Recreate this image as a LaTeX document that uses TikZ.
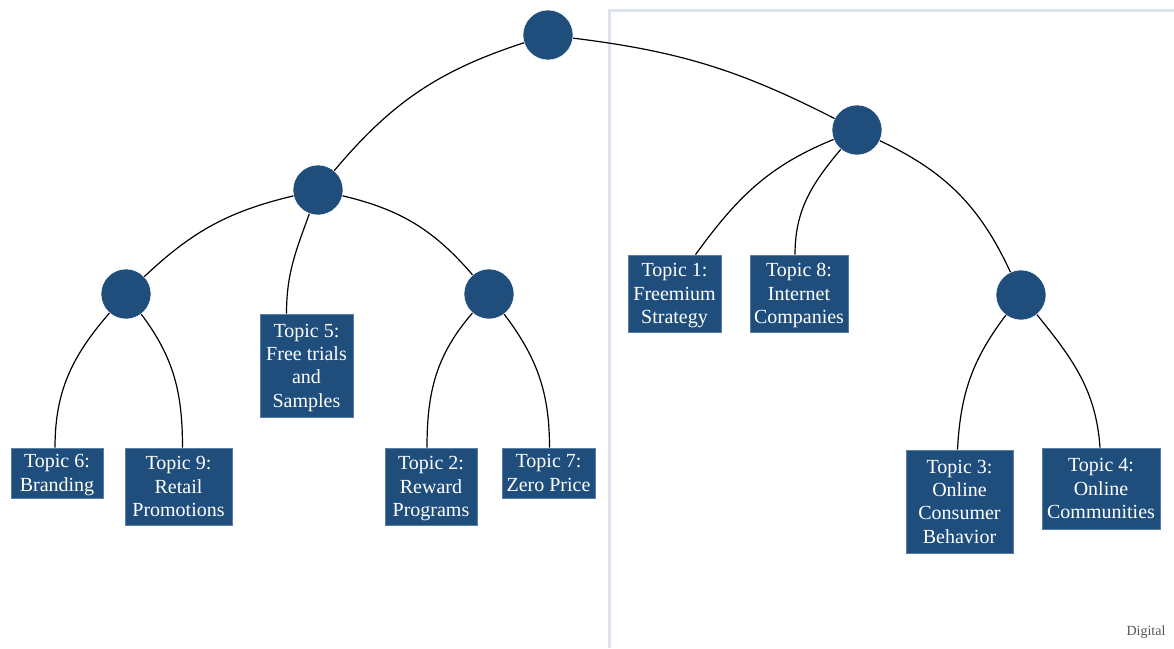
\documentclass[tikz,border=0pt]{standalone}
\usepackage{fontspec}
\setmainfont{Liberation Serif}
\usetikzlibrary{calc}
\definecolor{boxblue}{HTML}{1F4E7C}
\definecolor{boxedge}{HTML}{5A7FA6}
\definecolor{framecol}{HTML}{DDE3EE}
\definecolor{digitgray}{HTML}{555555}
\begin{document}
\begin{tikzpicture}[x=1pt,y=-1pt,
  dot/.style={circle,fill=boxblue,draw=white,line width=0.5pt,minimum size=50pt,inner sep=0},
  topicbox/.style={rectangle,fill=boxblue,draw=boxedge,line width=0.8pt,text=white,align=center,inner sep=0,
    text depth=0pt,font=\fontsize{20}{23.3}\selectfont},
  link/.style={draw=black,line width=1.2pt}]
\useasboundingbox (0,0) rectangle (1174,648);
% frame
\draw[framecol,line width=3pt] (609,648) -- (609,10) -- (1175,10);
% circles
\node[dot] (root) at (548,35) {};
\node[dot] (ll) at (318,190) {};
\node[dot] (rr) at (857,130) {};
\node[dot] (la) at (126,294) {};
\node[dot] (lb) at (489,294) {};
\node[dot] (rc) at (1021,295) {};
% boxes
\node[topicbox,minimum width=92pt,minimum height=50pt] (t6) at (57,473) {Topic 6:\\Branding};
\node[topicbox,minimum width=107pt,minimum height=77pt] (t9) at (178.5,486.5) {Topic 9:\\Retail\\Promotions};
\node[topicbox,minimum width=93pt,minimum height=103pt] (t5) at (306.5,365.5) {Topic 5:\\Free trials\\and\\Samples};
\node[topicbox,minimum width=92pt,minimum height=77pt] (t2) at (431,486.5) {Topic 2:\\Reward\\Programs};
\node[topicbox,minimum width=93pt,minimum height=50pt] (t7) at (548.5,473) {Topic 7:\\Zero Price};
\node[topicbox,minimum width=93pt,minimum height=77pt] (t1) at (674.5,293.5) {Topic 1:\\Freemium\\Strategy};
\node[topicbox,minimum width=98pt,minimum height=77pt] (t8) at (799,293.5) {Topic 8:\\Internet\\Companies};
\node[topicbox,minimum width=107pt,minimum height=103pt] (t3) at (959.5,501.5) {Topic 3:\\Online\\Consumer\\Behavior};
\node[topicbox,minimum width=118pt,minimum height=81pt] (t4) at (1101,488.5) {Topic 4:\\Online\\Communities};
% links
\draw[link] (root) to[bend right=16] (ll);
\draw[link] (root) to[bend left=10] (rr);
\draw[link] (ll) to[bend right=15] (la);
\draw[link] (ll) to[bend left=18] (lb);
\draw[link] (rr) to[bend left=20] (rc);
\draw[link] (ll) to[out=250,in=90] ($(t5.north)+(-20,0)$);
\draw[link] (la) to[out=229,in=90] ($(t6.north)+(-2,0)$);
\draw[link] (la) to[out=-53,in=90] ($(t9.north)+(4,0)$);
\draw[link] (lb) to[out=229,in=90] ($(t2.north)+(-4,0)$);
\draw[link] (lb) to[out=-53,in=90] ($(t7.north)+(1,0)$);
\draw[link] (rr) to[out=202,in=54] ($(t1.north)+(21,0)$);
\draw[link] (rr) to[out=230,in=90] ($(t8.north)+(-4,0)$);
\draw[link] (rc) to[out=233,in=87] ($(t3.north)+(-2,0)$);
\draw[link] (rc) to[out=-51,in=94] ($(t4.north)+(-1,0)$);
% label
\node[text=digitgray,font=\fontsize{14}{16}\selectfont] (dig) at (1146,632) {Digital};
\end{tikzpicture}
\end{document}
